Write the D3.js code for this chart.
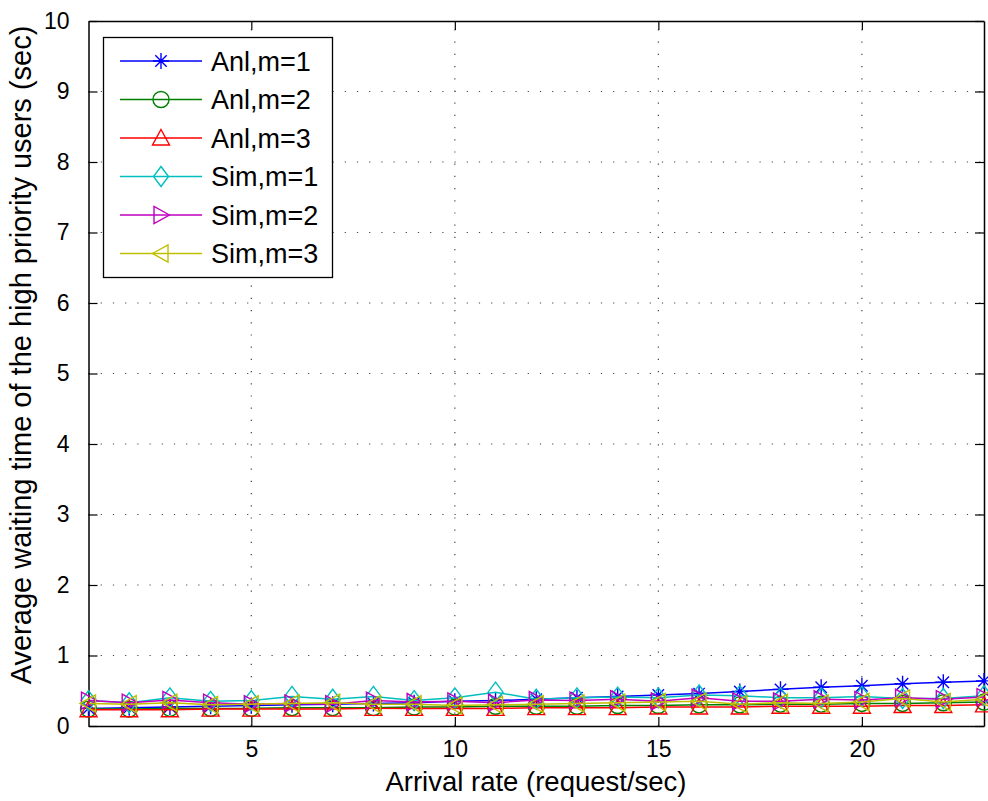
<!DOCTYPE html>
<html>
<head>
<meta charset="utf-8">
<script src="https://cdn.jsdelivr.net/npm/d3@7"></script>
<style>
  body { margin: 0; background: #fff; }
  text { font-family: "Liberation Sans", Arial, sans-serif; }
</style>
</head>
<body>
<svg id="svg" width="988" height="801"></svg>
<script>
// data
var rates = [1,2,3,4,5,6,7,8,9,10,11,12,13,14,15,16,17,18,19,20,21,22,23];
var anlM1 = [0.25,0.26,0.27,0.28,0.29,0.30,0.31,0.32,0.33,0.35,0.36,0.38,0.40,0.42,0.44,0.46,0.49,0.52,0.55,0.57,0.60,0.62,0.64];
var anlM2 = [0.24,0.24,0.25,0.25,0.25,0.26,0.26,0.26,0.27,0.27,0.28,0.28,0.28,0.29,0.29,0.30,0.30,0.31,0.31,0.32,0.32,0.33,0.34];
var anlM3 = [0.23,0.23,0.23,0.24,0.24,0.24,0.24,0.25,0.25,0.25,0.25,0.26,0.26,0.26,0.27,0.27,0.27,0.28,0.28,0.28,0.29,0.29,0.30];
var simM1 = [0.36,0.33,0.40,0.35,0.36,0.42,0.38,0.42,0.36,0.40,0.48,0.38,0.40,0.41,0.40,0.44,0.43,0.40,0.40,0.42,0.39,0.39,0.43];
var simM2 = [0.36,0.33,0.37,0.33,0.31,0.32,0.31,0.36,0.34,0.35,0.33,0.37,0.36,0.38,0.35,0.40,0.35,0.35,0.38,0.37,0.40,0.38,0.41];
var simM3 = [0.32,0.31,0.33,0.30,0.31,0.32,0.33,0.31,0.31,0.29,0.30,0.31,0.32,0.33,0.34,0.35,0.31,0.33,0.32,0.34,0.39,0.34,0.38];
var xTicks = [5,10,15,20];
var yTicks = [0,1,2,3,4,5,6,7,8,9,10];

var series = [
  {name: "Anl,m=1", values: anlM1, color: "#0000ff", marker: "star"},
  {name: "Anl,m=2", values: anlM2, color: "#008000", marker: "circle"},
  {name: "Anl,m=3", values: anlM3, color: "#ff0000", marker: "triUp"},
  {name: "Sim,m=1", values: simM1, color: "#00bfbf", marker: "diamond"},
  {name: "Sim,m=2", values: simM2, color: "#bf00bf", marker: "triRight"},
  {name: "Sim,m=3", values: simM3, color: "#bfbf00", marker: "triLeft"}
];

var svg = d3.select("#svg");
var plotLeft = 88.5, plotRight = 984, plotTop = 21, plotBottom = 726;

var x = d3.scaleLinear().domain([1, 23]).range([plotLeft, plotRight]);
var y = d3.scaleLinear().domain([0, 10]).range([plotBottom, plotTop]);

// dotted grid
var grid = svg.append("g").attr("stroke", "#444").attr("stroke-width", 1.2)
    .attr("stroke-dasharray", "1.2,11");
grid.selectAll(".gx").data(xTicks).enter().append("line")
    .attr("x1", function(d) { return x(d); }).attr("x2", function(d) { return x(d); })
    .attr("y1", plotBottom).attr("y2", plotTop);
grid.selectAll(".gy").data(yTicks.slice(1, -1)).enter().append("line")
    .attr("x1", plotLeft).attr("x2", plotRight)
    .attr("y1", function(d) { return y(d); }).attr("y2", function(d) { return y(d); });

// axes with inward ticks
var tick = 9;
svg.append("g").attr("transform", "translate(0," + plotBottom + ")")
    .call(d3.axisBottom(x).tickValues(xTicks).tickSizeInner(-tick).tickSizeOuter(0).tickPadding(tick + 6))
    .call(styleAxis);
svg.append("g").attr("transform", "translate(0," + plotTop + ")")
    .call(d3.axisTop(x).tickValues(xTicks).tickSizeInner(-tick).tickSizeOuter(0).tickFormat(""))
    .call(styleAxis);
svg.append("g").attr("transform", "translate(" + plotLeft + ",0)")
    .call(d3.axisLeft(y).tickValues(yTicks).tickSizeInner(-tick).tickSizeOuter(0).tickPadding(tick + 10))
    .call(styleAxis);
svg.append("g").attr("transform", "translate(" + plotRight + ",0)")
    .call(d3.axisRight(y).tickValues(yTicks).tickSizeInner(-tick).tickSizeOuter(0).tickFormat(""))
    .call(styleAxis);

function styleAxis(g) {
  g.select(".domain").attr("stroke", "#000").attr("stroke-width", 1.5);
  g.selectAll(".tick line").attr("stroke", "#000").attr("stroke-width", 1.2);
  g.selectAll(".tick text").attr("fill", "#000").attr("font-size", 23)
    .attr("font-family", "Liberation Sans, Arial, sans-serif");
}

// marker shapes
function drawMarker(g, type, color) {
  var s = 8;
  if (type == "star") {
    g.append("path").attr("d",
      "M" + (-s) + ",0L" + s + ",0M0," + (-s) + "L0," + s +
      "M-5.7,-5.7L5.7,5.7M-5.7,5.7L5.7,-5.7")
      .attr("stroke", color).attr("stroke-width", 1.4).attr("fill", "none");
  } else if (type == "circle") {
    g.append("circle").attr("r", s).attr("stroke", color).attr("stroke-width", 1.4).attr("fill", "none");
  } else if (type == "diamond") {
    g.append("path").attr("d", "M0,-10L7.5,0L0,10L-7.5,0Z")
      .attr("stroke", color).attr("stroke-width", 1.4).attr("fill", "none");
  } else if (type == "triUp") {
    g.append("path").attr("d", "M0,-8.5L8.5,7L-8.5,7Z")
      .attr("stroke", color).attr("stroke-width", 1.4).attr("fill", "none");
  } else if (type == "triRight") {
    g.append("path").attr("d", "M8.5,0L-7,-8.5L-7,8.5Z")
      .attr("stroke", color).attr("stroke-width", 1.4).attr("fill", "none");
  } else if (type == "triLeft") {
    g.append("path").attr("d", "M-8.5,0L7,-8.5L7,8.5Z")
      .attr("stroke", color).attr("stroke-width", 1.4).attr("fill", "none");
  }
}

var line = d3.line()
    .x(function(d, i) { return x(rates[i]); })
    .y(function(d) { return y(d); });

var plot = svg.append("g");
series.forEach(function(s) {
  var g = plot.append("g");
  g.append("path").datum(s.values)
    .attr("d", line).attr("fill", "none")
    .attr("stroke", s.color).attr("stroke-width", 1.5);
  s.values.forEach(function(v, i) {
    var m = g.append("g").attr("transform", "translate(" + x(rates[i]) + "," + y(v) + ")");
    drawMarker(m, s.marker, s.color);
  });
});

// legend
var legend = svg.append("g");
legend.append("rect").attr("x", 103.5).attr("y", 37.5).attr("width", 229).attr("height", 240)
    .attr("fill", "#fff").attr("stroke", "#000").attr("stroke-width", 1.3);
series.forEach(function(s, i) {
  var ly = 61 + i * 38.5;
  var row = legend.append("g");
  row.append("line").attr("x1", 120).attr("x2", 202).attr("y1", ly).attr("y2", ly)
    .attr("stroke", s.color).attr("stroke-width", 1.4);
  drawMarker(row.append("g").attr("transform", "translate(161," + ly + ")"), s.marker, s.color);
  row.append("text").attr("x", 211).attr("y", ly).attr("dy", "0.36em")
    .attr("font-size", 27).attr("fill", "#000").text(s.name);
});

// axis labels
svg.append("text").attr("x", 536).attr("y", 791).attr("text-anchor", "middle")
    .attr("font-size", 27.5).attr("fill", "#000").text("Arrival rate (request/sec)");
svg.append("text").attr("transform", "translate(31,355) rotate(-90)")
    .attr("text-anchor", "middle").attr("font-size", 29).attr("fill", "#000")
    .text("Average waiting time of the high priority users (sec)");
</script>
</body>
</html>
